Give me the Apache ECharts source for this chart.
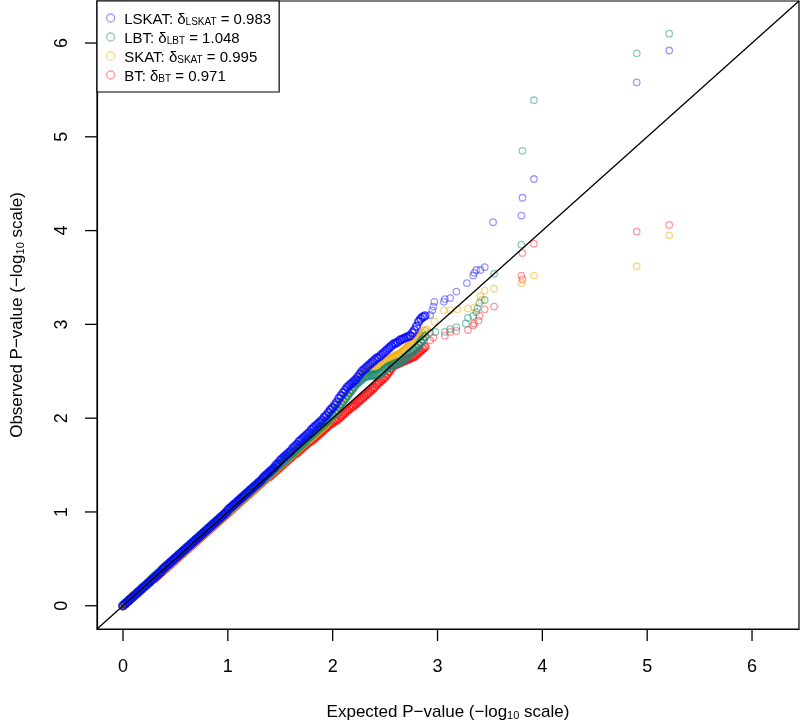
<!DOCTYPE html>
<html>
<head>
<meta charset="utf-8">
<script src="https://cdn.jsdelivr.net/npm/echarts@6/dist/echarts.min.js"></script>
<style>html,body{margin:0;padding:0;background:#fff;}#c{width:800px;height:722px;}</style>
</head>
<body>
<div id="c"></div>
<script>
// Expected -log10 p (shared grid for the dense part of the QQ curve)
const expected = [
0.00,0.02,0.04,0.06,0.08,0.10,0.12,0.14,0.16,0.18,
0.20,0.22,0.24,0.26,0.28,0.30,0.32,0.34,0.36,0.38,
0.40,0.42,0.44,0.46,0.48,0.50,0.52,0.54,0.56,0.58,
0.60,0.62,0.64,0.66,0.68,0.70,0.72,0.74,0.76,0.78,
0.80,0.82,0.84,0.86,0.88,0.90,0.92,0.94,0.96,0.98,
1.00,1.02,1.04,1.06,1.08,1.10,1.12,1.14,1.16,1.18,
1.20,1.22,1.24,1.26,1.28,1.30,1.32,1.34,1.36,1.38,
1.40,1.42,1.44,1.46,1.48,1.50,1.52,1.54,1.56,1.58,
1.60,1.62,1.64,1.66,1.68,1.70,1.72,1.74,1.76,1.78,
1.80,1.82,1.84,1.86,1.88,1.90,1.92,1.94,1.96,1.98,
2.00,2.02,2.04,2.06,2.08,2.10,2.12,2.14,2.16,2.18,
2.20,2.22,2.24,2.26,2.28,2.30,2.32,2.34,2.36,2.38,
2.40,2.42,2.44,2.46,2.48,2.50,2.52,2.54,2.56,2.58,
2.60,2.62,2.64,2.66,2.68,2.70,2.72,2.74,2.76,2.78,
2.80,2.82,2.84,2.86,2.88];

// Observed -log10 p on the dense grid
const lskatObs = [
0.00,0.02,0.04,0.06,0.08,0.10,0.12,0.14,0.16,0.18,
0.20,0.22,0.24,0.26,0.28,0.30,0.32,0.34,0.36,0.39,
0.41,0.43,0.45,0.47,0.49,0.51,0.53,0.55,0.57,0.59,
0.61,0.63,0.65,0.67,0.69,0.71,0.73,0.75,0.77,0.79,
0.81,0.83,0.85,0.87,0.89,0.91,0.93,0.95,0.97,0.99,
1.02,1.04,1.06,1.08,1.10,1.12,1.14,1.16,1.18,1.20,
1.22,1.24,1.26,1.28,1.30,1.32,1.34,1.37,1.39,1.41,
1.43,1.45,1.47,1.50,1.52,1.55,1.57,1.59,1.61,1.63,
1.65,1.68,1.70,1.72,1.75,1.77,1.79,1.81,1.83,1.85,
1.88,1.90,1.92,1.94,1.96,1.98,2.01,2.03,2.06,2.09,
2.11,2.14,2.17,2.21,2.24,2.27,2.30,2.33,2.35,2.37,
2.39,2.41,2.44,2.47,2.50,2.52,2.54,2.56,2.58,2.60,
2.62,2.64,2.65,2.67,2.69,2.71,2.73,2.75,2.77,2.79,
2.80,2.81,2.83,2.84,2.85,2.86,2.87,2.88,2.91,2.94,
2.98,3.03,3.06,3.08,3.09];
const lbtObs = [
0.00,0.02,0.04,0.06,0.08,0.10,0.12,0.14,0.16,0.18,
0.20,0.22,0.24,0.26,0.29,0.31,0.33,0.35,0.37,0.39,
0.41,0.43,0.45,0.47,0.49,0.51,0.53,0.55,0.57,0.59,
0.61,0.63,0.65,0.67,0.69,0.71,0.73,0.75,0.77,0.79,
0.81,0.83,0.85,0.87,0.89,0.91,0.93,0.95,0.97,0.99,
1.01,1.03,1.05,1.07,1.09,1.11,1.13,1.15,1.17,1.19,
1.21,1.23,1.25,1.27,1.29,1.31,1.33,1.35,1.37,1.39,
1.41,1.43,1.45,1.47,1.49,1.51,1.53,1.55,1.57,1.59,
1.61,1.63,1.65,1.67,1.69,1.71,1.73,1.75,1.78,1.80,
1.82,1.84,1.86,1.88,1.90,1.92,1.94,1.96,1.98,2.01,
2.03,2.05,2.08,2.12,2.15,2.18,2.21,2.24,2.27,2.30,
2.33,2.36,2.38,2.40,2.42,2.44,2.45,2.45,2.46,2.46,
2.46,2.46,2.47,2.48,2.50,2.52,2.54,2.55,2.56,2.57,
2.58,2.59,2.60,2.61,2.63,2.65,2.67,2.69,2.71,2.73,
2.75,2.78,2.81,2.84,2.87];
const skatObs = [
0.00,0.02,0.04,0.06,0.08,0.10,0.12,0.14,0.16,0.18,
0.20,0.22,0.24,0.26,0.28,0.30,0.32,0.34,0.36,0.38,
0.40,0.42,0.44,0.46,0.48,0.50,0.52,0.54,0.56,0.58,
0.60,0.62,0.64,0.66,0.68,0.70,0.72,0.74,0.76,0.78,
0.80,0.82,0.84,0.86,0.88,0.90,0.92,0.94,0.96,0.98,
1.00,1.02,1.04,1.06,1.08,1.10,1.12,1.14,1.16,1.18,
1.20,1.22,1.24,1.26,1.28,1.30,1.32,1.34,1.36,1.38,
1.40,1.42,1.44,1.46,1.48,1.50,1.52,1.54,1.56,1.58,
1.60,1.62,1.64,1.66,1.68,1.70,1.72,1.74,1.76,1.78,
1.80,1.82,1.84,1.86,1.88,1.90,1.92,1.94,1.97,2.00,
2.03,2.06,2.09,2.13,2.16,2.19,2.22,2.25,2.28,2.31,
2.34,2.37,2.40,2.43,2.46,2.48,2.49,2.50,2.51,2.52,
2.53,2.54,2.55,2.57,2.59,2.61,2.62,2.63,2.64,2.65,
2.66,2.67,2.68,2.70,2.72,2.74,2.76,2.78,2.80,2.82,
2.84,2.86,2.88,2.90,2.93];
const btObs = [
0.00,0.02,0.04,0.06,0.08,0.10,0.12,0.14,0.16,0.18,
0.20,0.22,0.24,0.26,0.28,0.29,0.31,0.33,0.35,0.37,
0.39,0.41,0.43,0.45,0.47,0.49,0.51,0.53,0.55,0.57,
0.59,0.61,0.63,0.65,0.67,0.69,0.71,0.73,0.75,0.77,
0.79,0.81,0.83,0.85,0.87,0.89,0.91,0.93,0.95,0.97,
0.99,1.01,1.03,1.05,1.07,1.09,1.11,1.13,1.15,1.17,
1.19,1.21,1.23,1.25,1.27,1.29,1.31,1.33,1.35,1.37,
1.38,1.40,1.42,1.44,1.46,1.48,1.50,1.52,1.54,1.56,
1.58,1.60,1.62,1.63,1.65,1.67,1.69,1.71,1.73,1.75,
1.76,1.78,1.80,1.82,1.84,1.86,1.88,1.90,1.92,1.94,
1.95,1.97,1.98,2.00,2.02,2.04,2.06,2.08,2.10,2.12,
2.13,2.15,2.17,2.19,2.21,2.23,2.25,2.27,2.29,2.31,
2.33,2.36,2.38,2.40,2.42,2.44,2.47,2.50,2.53,2.56,
2.57,2.58,2.59,2.60,2.61,2.62,2.63,2.64,2.65,2.66,
2.68,2.70,2.72,2.74,2.76];

// Sparse tails: [expected, observed]
const lskatTail = [[2.93,3.10],[2.95,3.15],[2.96,3.19],[2.97,3.24],[3.06,3.24],[3.07,3.27],[3.12,3.28],[3.18,3.35],[3.28,3.44],[3.34,3.52],[3.35,3.55],[3.37,3.58],[3.41,3.58],[3.45,3.61],[3.53,4.09],[3.80,4.16],[3.81,4.35],[3.92,4.55],[4.90,5.58],[5.21,5.92]];
const lbtTail = [[2.93,2.91],[2.98,2.92],[3.07,2.92],[3.12,2.95],[3.18,2.97],[3.27,3.01],[3.29,3.07],[3.34,3.09],[3.37,3.13],[3.38,3.17],[3.40,3.23],[3.45,3.26],[3.54,3.54],[3.80,3.85],[3.81,4.85],[3.92,5.39],[4.90,5.89],[5.21,6.10]];
const skatTail = [[2.90,2.95],[2.97,3.03],[3.06,3.15],[3.12,3.15],[3.19,3.16],[3.29,3.17],[3.35,3.18],[3.41,3.30],[3.42,3.26],[3.45,3.36],[3.54,3.38],[3.80,3.44],[3.92,3.52],[4.90,3.62],[5.21,3.95]];
const btTail = [[2.93,2.83],[2.96,2.86],[3.07,2.88],[3.12,2.92],[3.18,2.93],[3.29,2.94],[3.34,2.99],[3.35,3.01],[3.39,3.04],[3.40,3.09],[3.45,3.16],[3.54,3.19],[3.80,3.52],[3.81,3.48],[3.81,3.76],[3.92,3.86],[4.90,3.99],[5.21,4.06]];

const seriesNames = ['LSKAT','LBT','SKAT','BT'];
const deltas = ['0.983','1.048','0.995','0.971'];
const tickValues = [0,1,2,3,4,5,6];

const AXMIN = -0.248, AXMAX = 6.448;
const FONT = "'Liberation Sans', Arial, Helvetica, sans-serif";
const rgb = {LSKAT: [0,0,255], LBT: [20,140,120], SKAT: [240,170,0], BT: [255,0,0]};
const alphaTail = {LSKAT: 0.5, LBT: 0.6, SKAT: 0.6, BT: 0.5};
function rgba(name, a) { const c = rgb[name]; return 'rgba(' + c[0] + ',' + c[1] + ',' + c[2] + ',' + a + ')'; }

const obsMap = {LSKAT: lskatObs, LBT: lbtObs, SKAT: skatObs, BT: btObs};
const tailMap = {LSKAT: lskatTail, LBT: lbtTail, SKAT: skatTail, BT: btTail};

const drawOrder = ['BT','SKAT','LBT','LSKAT'];
const series = [];
// sparse tail points (individual rings)
drawOrder.forEach(name => {
  series.push({
    name: name, type: 'scatter', symbol: 'circle', symbolSize: 6.5,
    data: tailMap[name],
    itemStyle: {color: 'rgba(0,0,0,0)', borderColor: rgba(name, alphaTail[name]), borderWidth: 1.3},
    emphasis: {disabled: true}, animation: false
  });
});
// dense part (heavily overlapping rings -> saturated band)
drawOrder.forEach(name => {
  series.push({
    name: name, type: 'scatter', symbol: 'circle', symbolSize: 7.5,
    data: expected.map((x, i) => [x, obsMap[name][i]]),
    itemStyle: {color: 'rgba(0,0,0,0)', borderColor: rgba(name, 0.85), borderWidth: 2},
    emphasis: {disabled: true}, animation: false
  });
});
// y = x reference line
series.push({
  type: 'line',
  data: [[AXMIN, AXMIN],[AXMAX, AXMAX]],
  symbol: 'none',
  lineStyle: {color: '#000', width: 1.3},
  silent: true, clip: true, animation: false, z: 5
});
// tick marks (outward, R style), positioned through the axes' own scales
const TICK = 12;
series.push({
  type: 'custom', silent: true, clip: false, animation: false, z: 6,
  data: tickValues.map(v => [v]),
  renderItem: function (params, api) {
    const v = api.value(0);
    const px = api.coord([v, AXMIN]);
    const py = api.coord([AXMIN, v]);
    return {
      type: 'group',
      children: [
        {type: 'line', shape: {x1: px[0], y1: px[1], x2: px[0], y2: px[1] + TICK}, style: {stroke: '#000', lineWidth: 1.3}},
        {type: 'line', shape: {x1: py[0], y1: py[1], x2: py[0] - TICK, y2: py[1]}, style: {stroke: '#000', lineWidth: 1.3}}
      ]
    };
  }
});

const legendText = {};
seriesNames.forEach((n, i) => {
  legendText[n] = '{n|' + n + ': δ}{s|' + n + '}{n| = ' + deltas[i] + '}';
});

const titleRich = {
  a: {fontSize: 17, color: '#000', fontFamily: FONT, lineHeight: 20, verticalAlign: 'bottom'},
  s: {fontSize: 11, color: '#000', fontFamily: FONT, lineHeight: 9, verticalAlign: 'bottom'}
};

const chart = echarts.init(document.getElementById('c'), null, {renderer: 'canvas'});
chart.setOption({
  backgroundColor: '#fff',
  animation: false,
  textStyle: {fontFamily: FONT},
  grid: {left: 97, right: 1, top: 1, bottom: 93, show: true, borderColor: '#000', borderWidth: 1.2,
         outerBoundsMode: 'none', containLabel: false},
  legend: {
    data: seriesNames.map(n => ({name: n, icon: 'circle', itemStyle: {color: 'rgba(0,0,0,0)', borderColor: rgba(n, alphaTail[n]), borderWidth: 1.3}})),
    orient: 'vertical',
    left: 97, top: 1,
    padding: [11, 8, 8, 9],
    itemGap: 4,
    itemWidth: 17, itemHeight: 8,
    backgroundColor: '#fff',
    borderColor: '#000', borderWidth: 1.2, borderRadius: 0,
    selectedMode: false,
    z: 10,
    formatter: name => legendText[name],
    textStyle: {
      fontFamily: FONT, color: '#000',
      rich: {
        n: {fontSize: 15, fontFamily: FONT, color: '#000', lineHeight: 18, verticalAlign: 'bottom'},
        s: {fontSize: 10, fontFamily: FONT, color: '#000', lineHeight: 8, verticalAlign: 'bottom'}
      }
    }
  },
  xAxis: {
    type: 'value', min: AXMIN, max: AXMAX,
    splitLine: {show: false},
    axisLine: {show: true, onZero: false, lineStyle: {color: '#000', width: 1.2}},
    axisTick: {show: false},
    axisLabel: {customValues: tickValues, fontSize: 18, color: '#000', margin: 29, fontFamily: FONT},
    name: '{a|Expected P−value (−log}{s|10}{a| scale)}',
    nameLocation: 'middle', nameGap: 72,
    nameTextStyle: {rich: titleRich}
  },
  yAxis: {
    type: 'value', min: AXMIN, max: AXMAX,
    splitLine: {show: false},
    axisLine: {show: true, onZero: false, lineStyle: {color: '#000', width: 1.2}},
    axisTick: {show: false},
    axisLabel: {customValues: tickValues, fontSize: 18, color: '#000', margin: 26, rotate: 90, fontFamily: FONT},
    name: '{a|Observed P−value (−log}{s|10}{a| scale)}',
    nameLocation: 'middle', nameGap: 71, nameRotate: 90,
    nameTextStyle: {rich: titleRich}
  },
  series: series
});
</script>
</body>
</html>
